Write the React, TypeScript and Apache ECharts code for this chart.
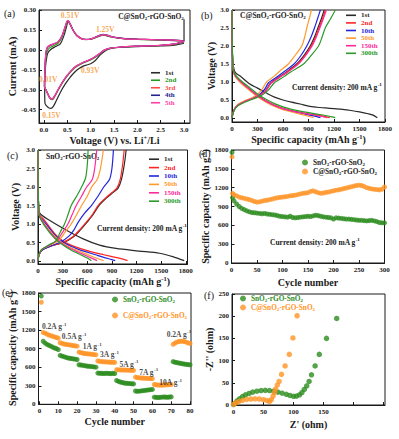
import React, { useEffect, useRef } from 'react';
import * as echarts from 'echarts';

const FONT = '"Liberation Serif","Times New Roman",serif';
const INK = '#1a1a1a';

// ---------- (a) cyclic voltammetry ----------
const aLabels = ['1st', '2nd', '3rd', '4th', '5th'];
const aColors = ['#2a2a2a', '#1f9a1f', '#ff4a4a', '#23238f', '#ff3fa6'];
const cv1 = [[3.0,0.05],[2.8,0.036],[2.5,0.03],[2.0,0.025],[1.6,0.018],[1.4,0.008],[1.3,-0.01],[1.2,-0.04],[1.1,-0.08],[1.0,-0.105],[0.93,-0.112],[0.85,-0.12],[0.75,-0.14],[0.65,-0.17],[0.55,-0.21],[0.45,-0.26],[0.35,-0.32],[0.26,-0.385],[0.2,-0.425],[0.15,-0.44],[0.1,-0.435],[0.05,-0.42],[0.02,-0.4],[0.015,-0.3],[0.02,-0.2],[0.04,-0.1],[0.08,-0.025],[0.15,0.005],[0.25,0.025],[0.35,0.045],[0.42,0.1],[0.48,0.17],[0.52,0.218],[0.57,0.19],[0.63,0.145],[0.7,0.108],[0.8,0.085],[0.9,0.078],[1.0,0.08],[1.1,0.092],[1.2,0.105],[1.27,0.11],[1.35,0.105],[1.5,0.093],[1.7,0.085],[2.0,0.08],[2.5,0.075],[2.9,0.068],[3.0,0.065],[3.0,0.23]];
const cv2 = [[3.0,0.06],[2.8,0.042],[2.5,0.033],[2.0,0.027],[1.6,0.02],[1.4,0.01],[1.3,-0.005],[1.2,-0.03],[1.1,-0.055],[1.0,-0.075],[0.9,-0.09],[0.8,-0.105],[0.7,-0.125],[0.6,-0.155],[0.5,-0.195],[0.4,-0.245],[0.3,-0.305],[0.23,-0.35],[0.18,-0.375],[0.13,-0.365],[0.08,-0.33],[0.04,-0.3],[0.01,-0.27],[0.02,-0.16],[0.04,-0.05],[0.07,-0.01],[0.12,0.015],[0.2,0.03],[0.3,0.05],[0.38,0.09],[0.45,0.16],[0.51,0.215],[0.56,0.19],[0.62,0.15],[0.7,0.11],[0.8,0.085],[0.9,0.077],[1.0,0.08],[1.1,0.093],[1.2,0.108],[1.27,0.113],[1.35,0.108],[1.5,0.094],[1.7,0.085],[2.0,0.079],[2.3,0.076],[2.6,0.074],[2.9,0.069],[3.0,0.064]];
const cv3 = [[3.0,0.062],[2.8,0.044],[2.5,0.034],[2.0,0.028],[1.6,0.02],[1.4,0.011],[1.3,-0.002],[1.2,-0.027],[1.1,-0.052],[1.0,-0.072],[0.9,-0.087],[0.8,-0.102],[0.7,-0.122],[0.6,-0.152],[0.5,-0.192],[0.4,-0.242],[0.3,-0.302],[0.23,-0.348],[0.18,-0.372],[0.13,-0.362],[0.08,-0.33],[0.04,-0.3],[0.01,-0.28],[0.02,-0.15],[0.04,-0.03],[0.07,0.015],[0.12,0.03],[0.2,0.042],[0.3,0.058],[0.38,0.1],[0.45,0.168],[0.51,0.218],[0.56,0.193],[0.62,0.15],[0.7,0.11],[0.8,0.085],[0.9,0.078],[1.0,0.081],[1.1,0.094],[1.2,0.109],[1.27,0.114],[1.35,0.109],[1.5,0.095],[1.7,0.085],[2.0,0.08],[2.3,0.077],[2.6,0.075],[2.9,0.07],[3.0,0.065]];
const cv4 = [[3.0,0.064],[2.8,0.045],[2.5,0.035],[2.0,0.028],[1.6,0.02],[1.4,0.012],[1.3,0.0],[1.2,-0.026],[1.1,-0.05],[1.0,-0.07],[0.9,-0.086],[0.8,-0.1],[0.7,-0.12],[0.6,-0.15],[0.5,-0.19],[0.4,-0.24],[0.3,-0.3],[0.22,-0.35],[0.17,-0.37],[0.12,-0.36],[0.08,-0.33],[0.04,-0.3],[0.01,-0.28],[0.02,-0.15],[0.04,-0.025],[0.07,0.018],[0.12,0.033],[0.2,0.044],[0.3,0.06],[0.38,0.1],[0.45,0.17],[0.51,0.22],[0.56,0.195],[0.62,0.15],[0.7,0.11],[0.8,0.086],[0.9,0.079],[1.0,0.082],[1.1,0.096],[1.2,0.111],[1.27,0.116],[1.35,0.111],[1.5,0.096],[1.7,0.086],[2.0,0.081],[2.3,0.078],[2.6,0.076],[2.9,0.071],[3.0,0.066]];
const cv5 = [[3.0,0.065],[2.8,0.045],[2.5,0.035],[2.0,0.028],[1.6,0.02],[1.4,0.012],[1.3,0.0],[1.2,-0.025],[1.1,-0.05],[1.0,-0.07],[0.9,-0.085],[0.8,-0.1],[0.7,-0.12],[0.6,-0.15],[0.5,-0.19],[0.4,-0.24],[0.3,-0.3],[0.22,-0.35],[0.17,-0.37],[0.12,-0.36],[0.08,-0.33],[0.04,-0.3],[0.01,-0.28],[0.02,-0.15],[0.04,-0.02],[0.07,0.02],[0.12,0.035],[0.2,0.045],[0.3,0.06],[0.38,0.1],[0.45,0.17],[0.51,0.222],[0.56,0.195],[0.62,0.15],[0.7,0.11],[0.8,0.085],[0.9,0.078],[1.0,0.082],[1.1,0.095],[1.2,0.11],[1.27,0.115],[1.35,0.11],[1.5,0.095],[1.7,0.085],[2.0,0.08],[2.3,0.077],[2.6,0.075],[2.9,0.07],[3.0,0.065]];
const aCycles = [cv1, cv2, cv3, cv4, cv5];
const aPeakText = ['0.51V', '1.25V', '0.93V', '0.01V', '0.15V'];
const aPeakV = [0.56, 1.31, 0.99, 0.09, 0.16];
const aPeakI = [0.262, 0.157, -0.157, -0.22, -0.497];

// ---------- (b),(c) charge / discharge ----------
const gcLabels = ['1st', '2nd', '10th', '50th', '150th', '300th'];
const gcColors = ['#2a2a2a', '#ff2424', '#2424dd', '#ff9a2e', '#ff2a9a', '#2a9a2a'];

const bDis = [
  [[0,3.0],[2,2.4],[6,1.8],[15,1.45],[40,1.26],[100,1.16],[200,0.96],[300,0.83],[400,0.7],[500,0.58],[600,0.5],[700,0.44],[800,0.39],[900,0.33],[1000,0.3],[1100,0.28],[1200,0.26],[1300,0.24],[1400,0.21],[1500,0.17],[1600,0.12],[1660,0.08],[1710,0.01]],
  [[0,3.0],[2,2.3],[6,1.7],[15,1.35],[30,1.22],[60,1.12],[100,1.02],[200,0.82],[300,0.63],[400,0.48],[500,0.36],[600,0.27],[700,0.21],[800,0.16],[900,0.12],[1000,0.08],[1100,0.04],[1150,0.01]],
  [[0,3.0],[2,2.3],[6,1.7],[15,1.35],[30,1.2],[60,1.1],[100,1.0],[200,0.8],[300,0.61],[400,0.46],[500,0.34],[600,0.25],[700,0.19],[800,0.14],[900,0.09],[1000,0.04],[1040,0.01]],
  [[0,3.0],[2,2.3],[6,1.7],[15,1.33],[30,1.18],[60,1.08],[100,0.98],[200,0.78],[300,0.59],[400,0.44],[500,0.32],[600,0.23],[700,0.17],[800,0.11],[900,0.05],[960,0.01]],
  [[0,3.0],[2,2.3],[6,1.7],[15,1.35],[30,1.21],[60,1.11],[100,1.01],[200,0.81],[300,0.62],[400,0.47],[500,0.35],[600,0.26],[700,0.2],[800,0.15],[900,0.11],[1000,0.07],[1080,0.03],[1120,0.01]],
  [[0,3.0],[2,2.3],[6,1.7],[15,1.37],[30,1.24],[60,1.14],[100,1.05],[200,0.86],[300,0.67],[400,0.52],[500,0.4],[600,0.31],[700,0.24],[800,0.19],[900,0.15],[1000,0.11],[1100,0.07],[1180,0.03],[1215,0.01]],
];
const bCh = [
  [[0,0.01],[10,0.12],[30,0.25],[70,0.36],[150,0.46],[250,0.55],[330,0.64],[400,0.78],[450,0.96],[500,1.05],[560,1.15],[640,1.28],[760,1.5],[850,1.75],[920,2.0],[970,2.25],[1010,2.5],[1050,2.75],[1085,3.0]],
  [[0,0.01],[10,0.12],[30,0.25],[70,0.36],[150,0.46],[250,0.55],[335,0.64],[405,0.78],[455,0.96],[505,1.05],[568,1.15],[650,1.28],[772,1.5],[862,1.75],[933,2.0],[983,2.25],[1024,2.5],[1063,2.75],[1100,3.0]],
  [[0,0.01],[10,0.12],[30,0.25],[70,0.37],[150,0.47],[250,0.56],[320,0.65],[385,0.8],[430,0.98],[480,1.06],[540,1.16],[615,1.29],[730,1.5],[815,1.75],[880,2.0],[930,2.25],[970,2.5],[1005,2.75],[1040,3.0]],
  [[0,0.01],[10,0.13],[30,0.26],[70,0.38],[150,0.48],[240,0.57],[300,0.66],[360,0.82],[405,1.0],[450,1.08],[500,1.17],[560,1.3],[663,1.5],[745,1.75],[821,2.0],[855,2.25],[880,2.5],[908,2.75],[935,3.0]],
  [[0,0.01],[10,0.12],[30,0.25],[70,0.36],[150,0.46],[250,0.55],[335,0.64],[405,0.78],[458,0.96],[510,1.05],[575,1.15],[658,1.28],[780,1.5],[870,1.75],[942,2.0],[992,2.25],[1033,2.5],[1073,2.75],[1110,3.0]],
  [[0,0.01],[10,0.11],[30,0.23],[70,0.34],[150,0.44],[250,0.53],[350,0.63],[430,0.78],[490,0.96],[545,1.05],[610,1.15],[690,1.28],[841,1.5],[935,1.75],[1018,2.0],[1060,2.25],[1097,2.5],[1158,2.75],[1216,3.0]],
];

const cDis = [
  [[0,3.0],[3,2.0],[8,1.5],[20,1.3],[140,1.1],[340,0.84],[550,0.6],[750,0.43],[950,0.34],[1230,0.27],[1480,0.21],[1640,0.12],[1780,0.01]],
  [[0,3.0],[3,2.0],[8,1.45],[20,1.25],[80,1.1],[200,0.75],[300,0.55],[400,0.43],[500,0.35],[600,0.28],[700,0.22],[800,0.17],[900,0.12],[1000,0.07],[1090,0.01]],
  [[0,3.0],[3,2.0],[8,1.45],[20,1.2],[80,1.05],[200,0.72],[300,0.52],[400,0.4],[500,0.31],[600,0.24],[700,0.17],[800,0.1],[900,0.04],[940,0.01]],
  [[0,3.0],[3,2.0],[8,1.45],[20,1.2],[80,1.0],[200,0.68],[300,0.48],[400,0.36],[500,0.27],[600,0.18],[700,0.09],[800,0.01]],
  [[0,3.0],[3,2.0],[8,1.45],[20,1.2],[80,0.98],[200,0.65],[300,0.46],[400,0.33],[500,0.23],[600,0.13],[720,0.01]],
  [[0,3.0],[3,2.0],[8,1.45],[20,1.2],[80,0.95],[200,0.62],[300,0.44],[400,0.3],[500,0.19],[600,0.08],[650,0.01]],
];
const cCh = [
  [[0,0.01],[10,0.14],[40,0.28],[150,0.4],[310,0.5],[430,0.65],[520,0.85],[598,1.05],[670,1.25],[742,1.5],[832,1.7],[912,1.85],[975,1.97],[1015,2.2],[1050,2.6],[1073,3.0]],
  [[0,0.01],[10,0.14],[40,0.28],[150,0.4],[300,0.5],[420,0.65],[510,0.85],[588,1.05],[660,1.25],[731,1.5],[820,1.7],[900,1.85],[960,1.97],[1000,2.2],[1030,2.6],[1049,3.0]],
  [[0,0.01],[10,0.14],[40,0.28],[150,0.4],[280,0.52],[380,0.68],[440,0.85],[490,1.05],[570,1.3],[650,1.5],[730,1.75],[800,2.0],[870,2.2],[900,2.5],[918,3.0]],
  [[0,0.01],[10,0.15],[40,0.3],[140,0.42],[250,0.55],[330,0.78],[404,1.0],[470,1.25],[531,1.5],[600,1.75],[653,2.0],[720,2.2],[760,2.5],[796,3.0]],
  [[0,0.01],[10,0.15],[40,0.3],[130,0.42],[230,0.55],[300,0.78],[364,1.0],[415,1.25],[465,1.5],[530,1.75],[592,2.0],[660,2.2],[690,2.5],[715,3.0]],
  [[0,0.01],[10,0.15],[40,0.3],[120,0.42],[220,0.55],[270,0.78],[323,1.0],[365,1.25],[404,1.5],[470,1.75],[531,2.0],[580,2.25],[600,2.6],[610,3.0]],
];

// ---------- (d) cycling ----------
const GREEN = '#2c8c1e';
const ORANGE = '#ff9326';
const dCycles = [1,2,5,10,15,20,25,30,35,40,45,50,55,60,65,70,75,80,85,90,95,100,105,110,115,120,125,130,135,140,145,150,155,160,165,170,175,180,185,190,195,200,205,210,215,220,225,230,235,240,245,250,255,260,265,270,275,280,285,290,295,300];
const dGreen = [1760,1040,990,940,900,870,850,830,815,805,800,795,790,785,790,780,775,770,765,755,745,740,735,730,745,725,720,725,730,735,740,745,740,750,760,755,745,735,730,725,720,700,720,715,710,705,700,700,695,690,685,680,680,675,670,675,680,670,660,645,640,640];
const dOrange = [1690,1110,1090,1070,1050,1040,1030,1020,1010,995,980,970,975,985,995,1000,1010,1020,1030,1040,1045,1050,1055,1060,1070,1075,1080,1090,1100,1110,1115,1120,1140,1150,1135,1120,1110,1115,1125,1130,1140,1150,1160,1165,1175,1185,1195,1205,1215,1225,1235,1240,1235,1220,1200,1190,1180,1175,1170,1165,1175,1210];

// ---------- (e) rate ----------
const eCycles = [1,2,3,4,5,6,7,8,9,10,11,12,13,14,15,16,17,18,19,20,21,22,23,24,25,26,27,28,29,30,31,32,33,34,35,36,37,38,39,40,41,42,43,44,45,46,47,48,49,50,51,52,53,54,55,56,57,58,59,60,61,62,63,64,65,66,67,68,69,70,71,72,73,74,75,76,77,78,79,80];
const eGreen = [1750,1020,990,970,955,940,925,910,900,885,790,780,770,760,750,745,740,735,730,725,640,635,630,625,620,615,612,608,604,600,505,502,500,498,500,502,498,496,500,498,385,370,360,352,345,340,338,335,332,330,215,210,212,216,220,224,228,232,236,240,115,112,110,112,115,118,116,114,118,120,690,680,675,668,662,656,650,646,642,640];
const eOrange = [1650,1160,1150,1135,1120,1110,1100,1090,1080,1070,995,985,975,970,965,960,955,950,945,940,845,835,828,822,818,815,812,808,804,800,700,695,690,688,686,684,682,680,680,678,560,558,556,555,554,553,552,551,550,549,440,432,428,425,423,421,420,418,416,415,320,315,312,310,310,312,314,316,318,320,970,990,1005,1015,1020,1020,1015,1005,990,985];
const eRateText = ['0.2', '0.5', '1', '3', '5', '7', '10', '0.2'];
const eRateX = [1.3, 11.9, 23, 32.2, 42.5, 53, 63.7, 67.6];
const eRateY = [1258, 1096, 934, 800, 649, 519, 350, 1135];

// ---------- (f) impedance ----------
const fGreen = [[0,1],[3,4],[6,9],[10,14],[15,19],[20,23],[26,26],[32,29],[39,31],[46,32.5],[53,33],[60,32.5],[67,31],[74,29],[81,26.5],[88,24],[94,21.5],[100,19.5],[105,20],[110,23],[114,28],[118,35],[122,43],[126,53],[130,68],[136,88],[143,114],[155,150],[172,195]];
const fOrange = [[0,1.5],[4,5],[9,8],[15,10.5],[22,12.5],[29,13.5],[36,14],[43,13.5],[50,12],[56,10],[60,8],[63,12],[66,20],[68,28],[70,36],[73,45],[76,53],[80,69],[86,88],[93,114],[99,151],[106,201]];

const CHEM_C = '{n|C@SnO}{s|2}{n|-rGO-SnO}{s|2}';
const CHEM_S = '{n|SnO}{s|2}{n|-rGO-SnO}{s|2}';

function buildOption() {
  const nameRich: any = {
    n: { fontFamily: FONT, fontWeight: 'bold', fontSize: 10, color: INK, lineHeight: 13 },
    p: { fontFamily: FONT, fontWeight: 'bold', fontSize: 6.5, color: INK, lineHeight: 7, verticalAlign: 'top' },
  };
  const axis = (grid: number, min: number, max: number, ticks: number[], fmt: (v: number) => string, name: string, gap: number, labels?: number[]) => ({
    type: 'value', gridIndex: grid, min, max, name, nameLocation: 'middle', nameGap: gap,
    nameTextStyle: { fontFamily: FONT, fontWeight: 'bold', fontSize: 10, color: INK, rich: nameRich },
    axisLine: { show: true, onZero: false, lineStyle: { color: INK, width: 1 } },
    axisTick: { show: true, inside: true, length: 3, lineStyle: { color: INK, width: 1 }, customValues: ticks },
    axisLabel: { show: true, customValues: labels ?? ticks, formatter: (v: number) => fmt(v), fontFamily: FONT, fontWeight: 'bold', fontSize: 7, color: INK, margin: 3 },
    splitLine: { show: false },
  });
  const f1 = (v: number) => v.toFixed(1);
  const f2 = (v: number) => v.toFixed(2);
  const f0 = (v: number) => String(Math.round(v));

  const capName = '{n|Specific capacity (mAh g}{p|-1}{n|)}';
  const xAxis = [
    axis(0, -0.107, 3.128, [0, 0.5, 1, 1.5, 2, 2.5, 3], f1, '{n|Voltage (V) vs. Li}{p|+}{n|/Li}', 10),
    axis(1, 0, 1800, [0, 300, 600, 900, 1200, 1500, 1800], f0, capName, 10),
    axis(2, 0, 1820, [0, 300, 600, 900, 1200, 1500, 1800], f0, capName, 11),
    axis(3, 0, 300, [0, 50, 100, 150, 200, 250, 300], f0, '{n|Cycle number}', 13),
    axis(4, -0.5, 80.5, [0, 10, 20, 30, 40, 50, 60, 70, 80], f0, '{n|Cycle number}', 11),
    axis(5, -2.5, 252.5, [0, 50, 100, 150, 200, 250], f0, "{n|Z' (ohm)}", 13, [0, 50, 100, 150]),
  ];
  const yAxis = [
    axis(0, -0.55, 0.30, [-0.45, -0.3, -0.15, 0, 0.15, 0.3], f2, '{n|Current (mA)}', 20),
    axis(1, -0.11, 3.0, [0, 0.5, 1, 1.5, 2, 2.5, 3], f1, '{n|Voltage (V)}', 14),
    axis(2, -0.08, 3.0, [0, 0.5, 1, 1.5, 2, 2.5, 3], f1, '{n|Voltage (V)}', 16),
    axis(3, 0, 1800, [0, 300, 600, 900, 1200, 1500, 1800], f0, capName, 19),
    axis(4, 0, 1800, [0, 300, 600, 900, 1200, 1500, 1800], f0, capName, 19),
    axis(5, 0, 250, [0, 50, 100, 150, 200, 250], f0, "{n|-Z'' (ohm)}", 13),
  ];
  const frame = { show: true, borderColor: INK, borderWidth: 1, backgroundColor: 'transparent' };
  const grid = [
    { left: 39, top: 10, width: 151, height: 113, ...frame },
    { left: 232, top: 10, width: 153, height: 112, ...frame },
    { left: 38, top: 150, width: 149.5, height: 114, ...frame },
    { left: 231.5, top: 150, width: 153, height: 113, ...frame },
    { left: 38.5, top: 293, width: 152.5, height: 111.3, ...frame },
    { left: 232, top: 294, width: 153, height: 111, ...frame },
  ];

  const series: any[] = [];
  const line = (idx: number, name: string, color: string, data: number[][]) => ({
    type: 'line', name, xAxisIndex: idx, yAxisIndex: idx, data, symbol: 'none', smooth: 0.3,
    color, lineStyle: { color, width: 1.2 }, itemStyle: { color }, silent: true,
  });
  aCycles.forEach((d, i) => series.push(line(0, 'a:' + aLabels[i], aColors[i], d)));
  series.push({
    type: 'scatter', xAxisIndex: 0, yAxisIndex: 0, symbolSize: 0, silent: true,
    data: aPeakText.map((t, i) => ({ name: t, value: [aPeakV[i], aPeakI[i]] })),
    label: { show: true, position: 'inside', formatter: '{b}', color: '#f5922a', fontFamily: FONT, fontWeight: 'bold', fontSize: 7.5 },
  });
  gcLabels.forEach((l, i) => {
    series.push(line(1, 'b:' + l, gcColors[i], bDis[i]));
    series.push(line(1, 'b:' + l, gcColors[i], bCh[i]));
  });
  gcLabels.forEach((l, i) => {
    series.push(line(2, 'c:' + l, gcColors[i], cDis[i]));
    series.push(line(2, 'c:' + l, gcColors[i], cCh[i]));
  });
  const sc = (idx: number, name: string, color: string, data: number[][], size = 5) => ({
    type: 'scatter', name, xAxisIndex: idx, yAxisIndex: idx, data, symbolSize: size, color, itemStyle: { color }, silent: true,
  });
  series.push(sc(3, 'd:g', GREEN, dCycles.map((c, i) => [c, dGreen[i]])));
  series.push(sc(3, 'd:o', ORANGE, dCycles.map((c, i) => [c, dOrange[i]])));
  series.push(sc(4, 'e:g', GREEN, eCycles.map((c, i) => [c, eGreen[i]])));
  series.push(sc(4, 'e:o', ORANGE, eCycles.map((c, i) => [c, eOrange[i]])));
  series.push({
    type: 'scatter', xAxisIndex: 4, yAxisIndex: 4, symbolSize: 0, silent: true,
    data: eRateText.map((t, i) => ({ name: t, value: [eRateX[i], eRateY[i]] })),
    label: {
      show: true, position: 'right', distance: 0, formatter: (p: any) => `{t|${p.name}A g}{p|-1}`,
      rich: {
        t: { fontFamily: FONT, fontWeight: 'bold', fontSize: 7.5, color: INK, lineHeight: 10 },
        p: { fontFamily: FONT, fontWeight: 'bold', fontSize: 5, color: INK, lineHeight: 6, verticalAlign: 'top' },
      },
    },
  });
  series.push(sc(5, 'f:g', GREEN, fGreen, 5.5));
  series.push(sc(5, 'f:o', ORANGE, fOrange, 5.5));

  const legRich: any = {
    n: { fontFamily: FONT, fontWeight: 'bold', fontSize: 7.3, lineHeight: 9 },
    s: { fontFamily: FONT, fontWeight: 'bold', fontSize: 5, lineHeight: 6, verticalAlign: 'bottom' },
  };
  const legText: Record<string, string> = {
    'd:g': CHEM_S, 'd:o': CHEM_C, 'e:g': CHEM_S, 'e:o': CHEM_C, 'f:g': CHEM_S, 'f:o': CHEM_C,
  };
  const lineLegend = (prefix: string, labels: string[], colors: string[], left: number, top: number, w: number, lh: number) => ({
    left, top, orient: 'vertical', icon: 'rect', itemWidth: w, itemHeight: 1.6, itemGap: 0, padding: 0, selectedMode: false,
    data: labels.map((l, i) => ({ name: prefix + l, textStyle: { color: colors[i] } })),
    formatter: (n: string) => n.split(':')[1],
    textStyle: { fontFamily: FONT, fontWeight: 'bold', fontSize: 7, lineHeight: lh },
  });
  const dotLegend = (prefix: string, left: number, top: number, gap: number, colors: string[]) => ({
    left, top, orient: 'vertical', icon: 'circle', itemWidth: 6, itemHeight: 6, itemGap: gap, padding: 0, selectedMode: false,
    data: [{ name: prefix + 'g', textStyle: { color: colors[0] } }, { name: prefix + 'o', textStyle: { color: colors[1] } }],
    formatter: (n: string) => legText[n],
    textStyle: { fontFamily: FONT, fontWeight: 'bold', fontSize: 7.3, rich: legRich },
  });
  const legend = [
    lineLegend('a:', aLabels, aColors, 151, 69, 9, 7.5),
    lineLegend('b:', gcLabels, gcColors, 346, 11.5, 10, 7.6),
    lineLegend('c:', gcLabels, gcColors, 149, 155, 10, 8.4),
    dotLegend('d:', 302, 159, 1, [INK, INK]),
    dotLegend('e:', 112, 296, 8, [GREEN, ORANGE]),
    dotLegend('f:', 240, 295, 1, [GREEN, ORANGE]),
  ];

  const gRich: any = {
    n: { fontFamily: FONT, fontWeight: 'bold', fontSize: 7.5, fill: INK, lineHeight: 10 },
    s: { fontFamily: FONT, fontWeight: 'bold', fontSize: 5, fill: INK, lineHeight: 6, verticalAlign: 'bottom' },
    p: { fontFamily: FONT, fontWeight: 'bold', fontSize: 5, fill: INK, lineHeight: 6, verticalAlign: 'top' },
  };
  const gText = (x: number, y: number, text: string, align = 'left', size = 7.5, weight = 'bold') => ({
    type: 'text', x, y, silent: true,
    style: {
      text, fill: INK, fontFamily: FONT, fontSize: size, fontWeight: weight,
      align, textAlign: align, verticalAlign: 'middle', textVerticalAlign: 'middle', rich: gRich,
    },
  });
  const CD = '{n|Current density: 200 mA g}{p|-1}';
  const graphic = [
    gText(4, 13, '(a)', 'left', 10, 'normal'),
    gText(201, 15, '(b)', 'left', 10, 'normal'),
    gText(7, 155, '(c)', 'left', 10, 'normal'),
    gText(199, 153, '(d)', 'left', 10, 'normal'),
    gText(2, 292, '(e)', 'left', 10, 'normal'),
    gText(204, 295, '(f)', 'left', 10, 'normal'),
    gText(151, 16, CHEM_C, 'center'),
    gText(240, 15, CHEM_C, 'left'),
    gText(46, 156, CHEM_S, 'left'),
    gText(292, 87, CD, 'left', 7),
    gText(97, 228, CD, 'left', 7),
    gText(270, 242, CD, 'left', 7),
  ];

  return { animation: false, backgroundColor: '#ffffff', grid, xAxis, yAxis, series, legend, graphic };
}

export default function App() {
  const ref = useRef<HTMLDivElement>(null);
  useEffect(() => {
    const chart = echarts.init(ref.current as HTMLDivElement, null, { renderer: 'svg' });
    chart.setOption(buildOption() as any);
    return () => chart.dispose();
  }, []);
  return <div ref={ref} style={{ position: 'absolute', left: 0, top: 0, width: 399, height: 439, background: '#fff' }} />;
}
